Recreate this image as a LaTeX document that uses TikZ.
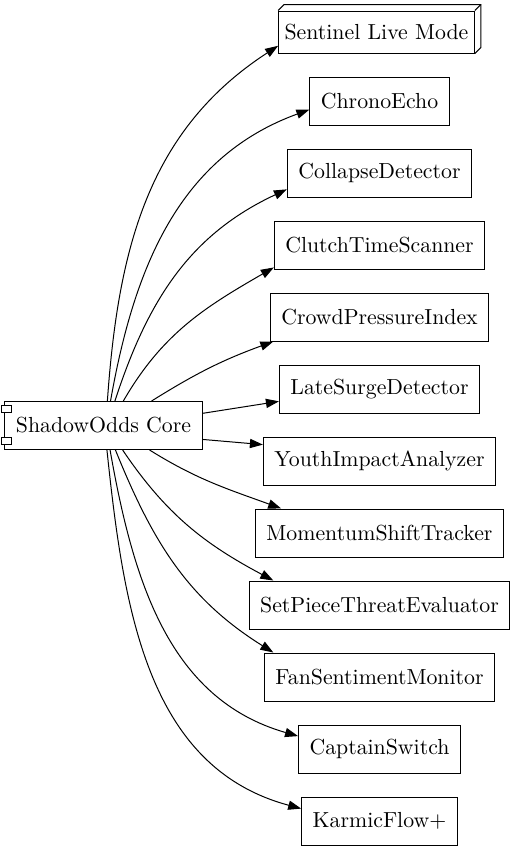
\documentclass[tikz,border=0pt]{standalone}
\usetikzlibrary{arrows.meta}

\tikzset{
  box/.style={draw,rectangle,line width=0.5pt,minimum height=24pt,inner xsep=5.5pt,inner ysep=0pt},
  link/.style={-{Triangle[length=6.5pt,width=4.6pt]},line width=0.5pt},
}

\begin{document}
\begin{tikzpicture}[x=0.5pt,y=0.5pt,font=\fontsize{10.9}{13}\selectfont]
\useasboundingbox (0,0) rectangle (515,-851);
% ================= core component =================
\node[box,minimum width=98.5pt] (core) at (103.5,-425.5) {ShadowOdds Core};
\draw[line width=0.5pt,fill=white] (1,-405) rectangle (11,-412);
\draw[line width=0.5pt,fill=white] (1,-437) rectangle (11,-444);
% ================= 3d box =================
\node[box,inner xsep=3pt,minimum height=21pt] (sentinel) at (376.5,-32) {Sentinel Live Mode};
\draw[line width=0.5pt] (sentinel.north west) -- ++(6,6) -| ([shift={(6,6)}]sentinel.south east)
  -- (sentinel.south east);
\draw[line width=0.5pt] (sentinel.north east) -- ++(6,6);
% ================= modules =================
\foreach \nm/\y/\txt in {chrono/101/ChronoEcho, collapse/173/CollapseDetector,
    clutch/245/ClutchTimeScanner, crowd/317/CrowdPressureIndex,
    latesurge/389/LateSurgeDetector, youth/461/YouthImpactAnalyzer,
    momentum/533/MomentumShiftTracker, setpiece/605/SetPieceThreatEvaluator,
    fan/677/FanSentimentMonitor, captain/749/CaptainSwitch, karmic/821/KarmicFlow+}{
  \node[box] (\nm) at (379.5,-\y) {\txt};
}
% ================= edges =================
\foreach \nm/\a/\o/\i/\b in {sentinel/81.5/86/213/188.5, chrono/74.5/80/200/187.4,
    collapse/65.9/72/205/190.9, clutch/51.8/60/210/192.2, crowd/27.8/32/200/193.4,
    momentum/332.2/-32/160/166.1, setpiece/308.2/-56/152/167.4,
    fan/296.1/-68/148/167.9, captain/285.5/-80/164/171.5, karmic/278.5/-84/165/171.7}{
  \draw[link] (core.\a) to[out=\o,in=\i] (\nm.\b);
}
\draw[link] (core.7.8) -- (latesurge.187.8);
\draw[link] (core.352.8) -- (youth.172.9);
\end{tikzpicture}
\end{document}
